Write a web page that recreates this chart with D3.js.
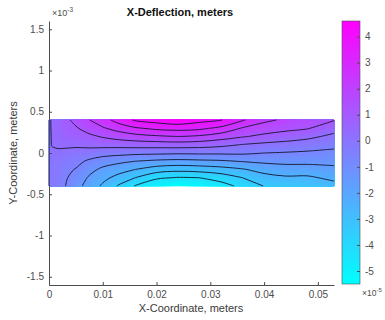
<!DOCTYPE html>
<html>
<head>
<meta charset="utf-8">
<script src="https://cdn.jsdelivr.net/npm/d3@7"></script>
<style>
  body { margin: 0; background: #fff; }
  svg { display: block; font-family: "Liberation Sans", Arial, sans-serif; }
  .axis path, .axis line { stroke: #4d4d4d; }
  .axis text { fill: #4d4d4d; font-size: 10px; }
</style>
</head>
<body>
<svg id="chart" width="385" height="320"></svg>
<script>
// grid columns (x, meters) and rows (y, meters, top to bottom)
const xCoords = [0, 0.0005, 0.0015, 0.003, 0.005, 0.0075, 0.010, 0.013, 0.016, 0.020,
                 0.024, 0.028, 0.032, 0.036, 0.040, 0.044, 0.048, 0.053];
const yCoords = [0.0004, 0.0003, 0.0002, 0.0001, 0, -0.0001, -0.0002, -0.0003, -0.0004];

// x-deflection at each node, units of 1e-5 m (one row per yCoords entry)
const row1 = [0, 0.45, 0.60, 0.97, 1.47, 2.08, 2.63, 3.39, 4.00, 4.28, 4.55, 4.19, 3.94, 3.10, 2.30, 1.95, 1.60, 1.25];
const row2 = [0, 0.42, 0.55, 0.85, 1.10, 1.60, 2.00, 2.46, 2.89, 3.19, 3.30, 3.19, 2.78, 2.02, 1.65, 1.45, 1.27, 0.64];
const row3 = [0, 0.38, 0.48, 0.70, 0.78, 1.00, 1.28, 1.56, 1.78, 1.97, 2.10, 1.96, 1.62, 1.27, 1.00, 0.75, 0.51, 0.09];
const row4 = [0, 0.33, 0.38, 0.45, 0.45, 0.55, 0.60, 0.63, 0.69, 0.72, 0.76, 0.69, 0.51, 0.26, 0.09, -0.02, -0.15, -0.37];
const row5 = [0, 0.15, 0.20, 0.10, 0.00, -0.10, -0.25, -0.32, -0.39, -0.43, -0.48, -0.46, -0.46, -0.46, -0.60, -0.66, -0.73, -0.82];
const row6 = [0, 0.00, 0.00, -0.20, -0.35, -0.75, -1.05, -1.30, -1.50, -1.68, -1.76, -1.69, -1.62, -1.45, -1.32, -1.26, -1.26, -1.26];
const row7 = [0, -0.08, -0.12, -0.38, -0.65, -1.22, -1.70, -2.05, -2.40, -2.85, -3.04, -2.94, -2.75, -2.48, -2.09, -1.89, -1.90, -1.71];
const row8 = [0, -0.12, -0.22, -0.50, -0.92, -1.62, -2.15, -2.70, -3.30, -4.07, -4.26, -4.20, -3.84, -3.30, -2.73, -2.53, -2.55, -2.19];
const row9 = [0, -0.10, -0.29, -0.58, -1.17, -1.87, -2.55, -3.42, -4.25, -4.88, -5.50, -5.02, -4.55, -3.97, -3.27, -3.16, -3.04, -2.70];
const deflection = [row1, row2, row3, row4, row5, row6, row7, row8, row9];

const contourLevels = [-4.2, -3.3, -2.4, -1.5, -0.6, 0.3, 1.2, 2.1, 3.0, 3.9];
const colorRange = [-5.5, 4.6];

const xTicks = [0, 0.01, 0.02, 0.03, 0.04, 0.05];
const xTickLabels = ["0", "0.01", "0.02", "0.03", "0.04", "0.05"];
const yTicks = [-0.0015, -0.001, -0.0005, 0, 0.0005, 0.001, 0.0015];
const yTickLabels = ["-1.5", "-1", "-0.5", "0", "0.5", "1", "1.5"];
const cbTicks = [-5, -4, -3, -2, -1, 0, 1, 2, 3, 4];
const cbTickLabels = ["-5", "-4", "-3", "-2", "-1", "0", "1", "2", "3", "4"];

const svg = d3.select("#chart");

const x = d3.scaleLinear().domain([0, 0.053]).range([49, 334]);
const y = d3.scaleLinear().domain([-0.0016, 0.0016]).range([285, 21]);
const color = d3.scaleLinear().domain(colorRange).range(["#00ffff", "#ff00ff"]);

// grid index -> meters (d3.contours puts sample i at i + 0.5)
const nx = xCoords.length, ny = yCoords.length;
const colPos = d3.scaleLinear().domain(d3.range(nx)).range(xCoords).clamp(true);
const rowPos = d3.scaleLinear().domain(d3.range(ny)).range(yCoords).clamp(true);
const toPx = ([gx, gy]) => [x(colPos(gx - 0.5)), y(rowPos(gy - 0.5))];
const path = d3.geoPath(d3.geoTransform({
  point(gx, gy) { const p = toPx([gx, gy]); this.stream.point(p[0], p[1]); }
}));

const values = deflection.flat();
const plateL = x(xCoords[0]), plateR = x(xCoords[nx - 1]);
const plateT = y(yCoords[0]), plateB = y(yCoords[ny - 1]);

// smooth fill from many thin levels
const fillLevels = d3.range(-56, 47).map(d => d / 10);
const fills = d3.contours().size([nx, ny]).thresholds(fillLevels)(values);

const plate = svg.append("g");
plate.append("rect")
  .attr("x", plateL).attr("y", plateT)
  .attr("width", plateR - plateL).attr("height", plateB - plateT)
  .attr("fill", color(d3.min(values)));
plate.selectAll("path.fill")
  .data(fills)
  .join("path")
  .attr("class", "fill")
  .attr("d", path)
  .attr("fill", d => color(d.value))
  .attr("stroke", d => color(d.value))
  .attr("stroke-width", 0.3);

// contour rings -> open isolines (drop the pieces running along the plate edge)
const near = (a, b) => Math.abs(a - b) < 1e-6;
function isolines(geom) {
  const out = [];
  geom.coordinates.forEach(poly => poly.forEach(ring => {
    const pts = ring.map(toPx);
    let cur = [];
    for (let i = 1; i < pts.length; i++) {
      const a = pts[i - 1], b = pts[i];
      const onEdge = (near(a[0], b[0]) && (near(a[0], plateL) || near(a[0], plateR))) ||
                     (near(a[1], b[1]) && (near(a[1], plateT) || near(a[1], plateB)));
      if (onEdge) {
        if (cur.length > 1) out.push(cur);
        cur = [];
      } else {
        if (!cur.length) cur.push(a);
        cur.push(b);
      }
    }
    if (cur.length > 1) out.push(cur);
  }));
  return out;
}

const lines = d3.contours().size([nx, ny]).thresholds(contourLevels)(values);
const lineGen = d3.line().curve(d3.curveCatmullRom.alpha(0.5));
svg.append("g")
  .selectAll("path")
  .data(lines.flatMap(isolines))
  .join("path")
  .attr("d", lineGen)
  .attr("fill", "none")
  .attr("stroke", "#15152e")
  .attr("stroke-width", 0.9);

// axes
svg.append("g")
  .attr("class", "axis")
  .attr("transform", `translate(0,${y(-0.0016)})`)
  .call(d3.axisBottom(x).tickValues(xTicks).tickFormat((d, i) => xTickLabels[i])
    .tickSizeInner(-3).tickSizeOuter(0).tickPadding(6));

svg.append("g")
  .attr("class", "axis")
  .attr("transform", `translate(${x(0)},0)`)
  .call(d3.axisLeft(y).tickValues(yTicks).tickFormat((d, i) => yTickLabels[i])
    .tickSizeInner(-3).tickSizeOuter(0).tickPadding(5));

// colorbar
const cb = d3.scaleLinear().domain(colorRange).range([284, 21]);
const grad = svg.append("defs").append("linearGradient")
  .attr("id", "cbGrad").attr("x1", 0).attr("y1", 1).attr("x2", 0).attr("y2", 0);
grad.append("stop").attr("offset", 0).attr("stop-color", color(colorRange[0]));
grad.append("stop").attr("offset", 1).attr("stop-color", color(colorRange[1]));

svg.append("rect")
  .attr("x", 342).attr("y", cb(colorRange[1]))
  .attr("width", 18).attr("height", cb(colorRange[0]) - cb(colorRange[1]))
  .attr("fill", "url(#cbGrad)")
  .attr("stroke", "#4d4d4d").attr("stroke-width", 0.6);

svg.append("g")
  .attr("class", "axis")
  .attr("transform", "translate(360,0)")
  .call(d3.axisRight(cb).tickValues(cbTicks).tickFormat((d, i) => cbTickLabels[i])
    .tickSizeInner(-3).tickSizeOuter(0).tickPadding(5))
  .call(g => g.select(".domain").remove());

// texts
svg.append("text")
  .attr("x", 180).attr("y", 16)
  .attr("text-anchor", "middle")
  .attr("font-size", 11).attr("font-weight", "bold").attr("fill", "#111")
  .text("X-Deflection, meters");

svg.append("text")
  .attr("x", 191).attr("y", 312)
  .attr("text-anchor", "middle")
  .attr("font-size", 11).attr("fill", "#3a3a3a")
  .text("X-Coordinate, meters");

svg.append("text")
  .attr("transform", "translate(17,153) rotate(-90)")
  .attr("text-anchor", "middle")
  .attr("font-size", 11).attr("fill", "#3a3a3a")
  .text("Y-Coordinate, meters");

const exp3 = svg.append("text")
  .attr("x", 52).attr("y", 16)
  .attr("font-size", 9).attr("fill", "#4d4d4d");
exp3.append("tspan").text("×10");
exp3.append("tspan").attr("dy", -4).attr("font-size", 6.5).text("-3");

const exp5 = svg.append("text")
  .attr("x", 362).attr("y", 296)
  .attr("font-size", 8.5).attr("fill", "#4d4d4d");
exp5.append("tspan").text("×10");
exp5.append("tspan").attr("dy", -4).attr("font-size", 6).text("-5");
</script>
</body>
</html>
